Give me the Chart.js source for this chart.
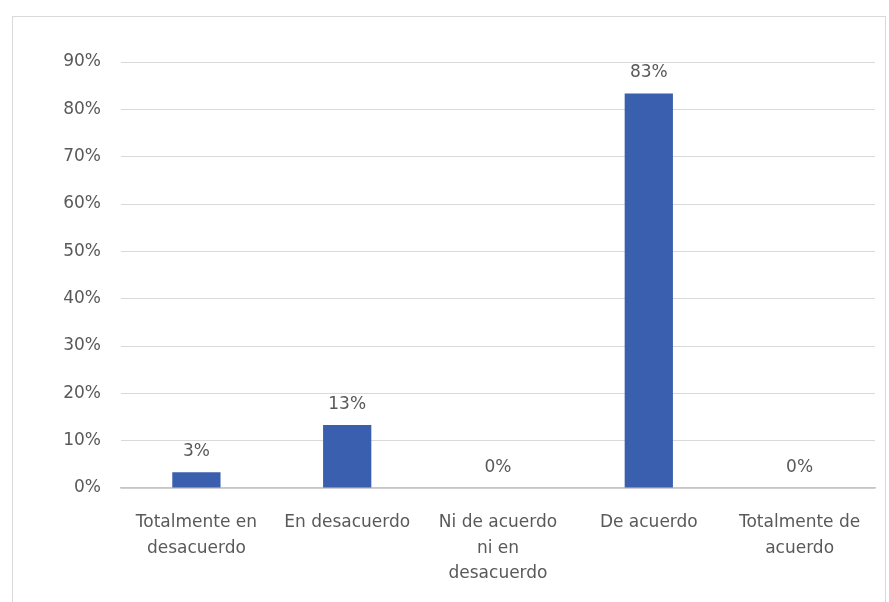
<!DOCTYPE html>
<html>
<head>
<meta charset="utf-8">
<script src="https://cdn.jsdelivr.net/npm/chart.js@4.4.0/dist/chart.umd.min.js"></script>
<style>
  html, body { margin: 0; padding: 0; background: #fff; }
  #wrap { position: relative; width: 889px; height: 602px; overflow: hidden; }
  #frame { position: absolute; left: 12px; top: 16px; width: 872px; height: 600px; border: 1px solid #d9d9d9; }
  canvas { position: absolute; left: 0; top: 0; }
</style>
</head>
<body>
<div id="wrap">
  <div id="frame"></div>
  <canvas id="barChart" width="889" height="602"></canvas>
</div>
<script>
const categories = [
    ['Totalmente en', 'desacuerdo'],
    ['En desacuerdo'],
    ['Ni de acuerdo', 'ni en', 'desacuerdo'],
    ['De acuerdo'],
    ['Totalmente de', 'acuerdo']
];
const percentages = [3.33, 13.33, 0, 83.33, 0];
const yTicks = [0, 10, 20, 30, 40, 50, 60, 70, 80, 90];

const textColor = '#595959';
const fontFamily = '"DejaVu Sans", sans-serif';

// draws the value above each bar
const valueLabels = {
    id: 'valueLabels',
    afterDatasetsDraw(chart) {
        const ctx = chart.ctx;
        const meta = chart.getDatasetMeta(0);
        ctx.save();
        ctx.font = '17px ' + fontFamily;
        ctx.fillStyle = textColor;
        ctx.textAlign = 'center';
        ctx.textBaseline = 'bottom';
        meta.data.forEach((bar, i) => {
            ctx.fillText(Math.round(percentages[i]) + '%', bar.x, bar.y - 12);
        });
        ctx.restore();
    }
};

document.addEventListener('DOMContentLoaded', () => {
    const ctx = document.getElementById('barChart').getContext('2d');

    new Chart(ctx, {
        type: 'bar',
        data: {
            labels: categories,
            datasets: [{
                data: percentages,
                backgroundColor: '#3a5fae',
                categoryPercentage: 1,
                barPercentage: 0.32
            }]
        },
        options: {
            responsive: false,
            animation: false,
            layout: {
                padding: { top: 62, right: 14, bottom: 0, left: 0 }
            },
            plugins: {
                legend: { display: false },
                tooltip: { enabled: false }
            },
            scales: {
                x: {
                    grid: { display: false },
                    border: { color: '#c6c6c6', width: 1.5 },
                    ticks: {
                        color: textColor,
                        font: { family: fontFamily, size: 17, lineHeight: 1.5 },
                        maxRotation: 0,
                        autoSkip: false,
                        padding: 14
                    },
                    afterFit(scale) { scale.height = 114; }
                },
                y: {
                    min: 0,
                    max: 90,
                    afterBuildTicks(scale) {
                        scale.ticks = yTicks.map(v => ({ value: v }));
                    },
                    grid: { color: '#d9d9d9', drawTicks: false },
                    border: { display: false },
                    ticks: {
                        color: textColor,
                        font: { family: fontFamily, size: 17 },
                        padding: 20,
                        callback: v => v + '%'
                    },
                    afterFit(scale) { scale.width = 121; }
                }
            }
        },
        plugins: [valueLabels]
    });
});
</script>
</body>
</html>
